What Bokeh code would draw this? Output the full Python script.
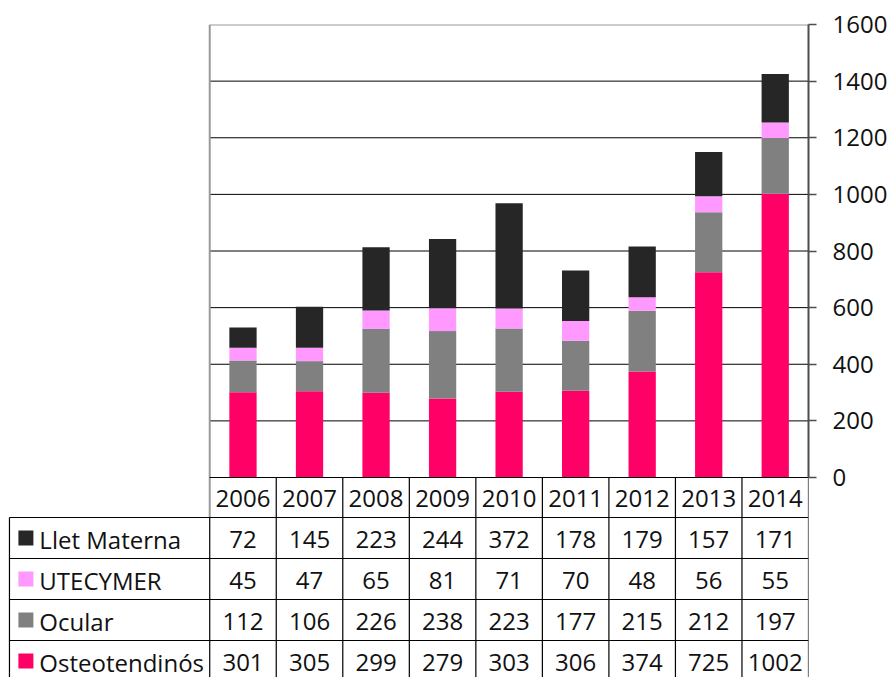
from bokeh.plotting import figure
from bokeh.models import FixedTicker, Range1d
from bokeh.core.properties import value
from bokeh.embed import file_html
from bokeh.resources import INLINE

years = ["2006", "2007", "2008", "2009", "2010", "2011", "2012", "2013", "2014"]
series_names = ["Osteotendinós", "Ocular", "UTECYMER", "Llet Materna"]  # bottom -> top
osteo = [301, 305, 299, 279, 303, 306, 374, 725, 1002]
ocular = [112, 106, 226, 238, 223, 177, 215, 212, 197]
utecymer = [45, 47, 65, 81, 71, 70, 48, 56, 55]
llet = [72, 145, 223, 244, 372, 178, 179, 157, 171]
y_ticks = [0, 200, 400, 600, 800, 1000, 1200, 1400, 1600]
colors = ["#FF0066", "#808080", "#FF99FF", "#262626"]

FONT = value("Open Sans")
FS = "24px"
W = 890
LEFT = 210          # px from canvas left to chart area
PLOT_W = 601
TOP = 24
PLOT_H = 453
TABLE_H = 200
N = len(years)
COL_W = PLOT_W / N
YMAX = y_ticks[-1]
SY = YMAX / PLOT_H  # data units per px


def tx(px):
    return (px - LEFT) / COL_W


def ty(py):
    return -py * SY


x_centers = [i + 0.5 for i in range(N)]
data = {"x": x_centers, "Osteotendinós": osteo, "Ocular": ocular,
        "UTECYMER": utecymer, "Llet Materna": llet}

p = figure(width=W, height=TOP + PLOT_H + TABLE_H,
           x_range=Range1d(tx(0), N), y_range=Range1d(ty(TABLE_H), YMAX),
           x_axis_location=None, y_axis_location="right",
           output_backend="svg", toolbar_location=None,
           min_border_left=0, min_border_top=TOP, min_border_bottom=0,
           min_border_right=W - LEFT - PLOT_W)
p.outline_line_color = None
p.xgrid.grid_line_color = None
p.ygrid.grid_line_color = None

# gridlines (under bars)
inner = y_ticks[1:-1]
p.segment([0] * len(inner), inner, [N] * len(inner), inner, line_color="#000000", line_width=1)
# chart borders: left and top gray
p.segment([0, 0], [YMAX, YMAX], [N, 0], [YMAX, ty(40)], line_color="#999999", line_width=2)

p.vbar_stack(series_names, x="x", width=0.41, color=colors, source=data, line_color=None)

ax = p.yaxis[0]
ax.ticker = FixedTicker(ticks=y_ticks)
ax.bounds = (0, YMAX)
ax.axis_line_color = "#4d4d4d"
ax.axis_line_width = 2
ax.major_tick_line_color = "#4d4d4d"
ax.major_tick_line_width = 1.5
ax.major_tick_out = 8
ax.major_tick_in = 0
ax.minor_tick_line_color = None
ax.major_label_standoff = 16
ax.major_label_text_font = "Open Sans"
ax.major_label_text_font_size = FS
ax.major_label_text_color = "#111111"

# ---- table ----
HEAD_H = 40
ROW_H = 41
row_names = list(reversed(series_names))
row_values = [llet, utecymer, ocular, osteo]
row_colors = list(reversed(colors))
row_tops = [HEAD_H + k * ROW_H for k in range(len(row_names) + 1)]

x0s, x1s, y0s, y1s = [0], [N], [0], [0]          # zero line
for yt in row_tops:
    x0s.append(tx(9)); x1s.append(N); y0s.append(ty(yt)); y1s.append(ty(yt))
for i in range(N + 1):
    if i > 0:
        x0s.append(i); x1s.append(i); y0s.append(0); y1s.append(ty(HEAD_H))
    x0s.append(i); x1s.append(i); y0s.append(ty(HEAD_H)); y1s.append(ty(TABLE_H + 10))
x0s.append(tx(9)); x1s.append(tx(9)); y0s.append(ty(HEAD_H)); y1s.append(ty(TABLE_H + 10))
p.segment(x0s, y0s, x1s, y1s, line_color="#000000", line_width=1.2)

p.text(x_centers, [ty(HEAD_H / 2 + 1)] * N, text=years, text_align="center",
       text_baseline="middle", text_font=FONT, text_font_size=FS, text_color="#111111")

for k, (name, vals, c) in enumerate(zip(row_names, row_values, row_colors)):
    yc = ty(row_tops[k] + ROW_H / 2 + 1)
    p.scatter([tx(25.5)], [ty(row_tops[k] + ROW_H / 2)], marker="square", size=15,
              color=c, line_color=None)
    p.text([tx(39)], [yc], text=[name], text_align="left", text_baseline="middle",
           text_font=FONT, text_font_size=FS, text_color="#111111")
    p.text(x_centers, [yc] * N, text=[str(v) for v in vals], text_align="center",
           text_baseline="middle", text_font=FONT, text_font_size=FS, text_color="#111111")

open("out.html", "w").write(file_html(p, INLINE))
